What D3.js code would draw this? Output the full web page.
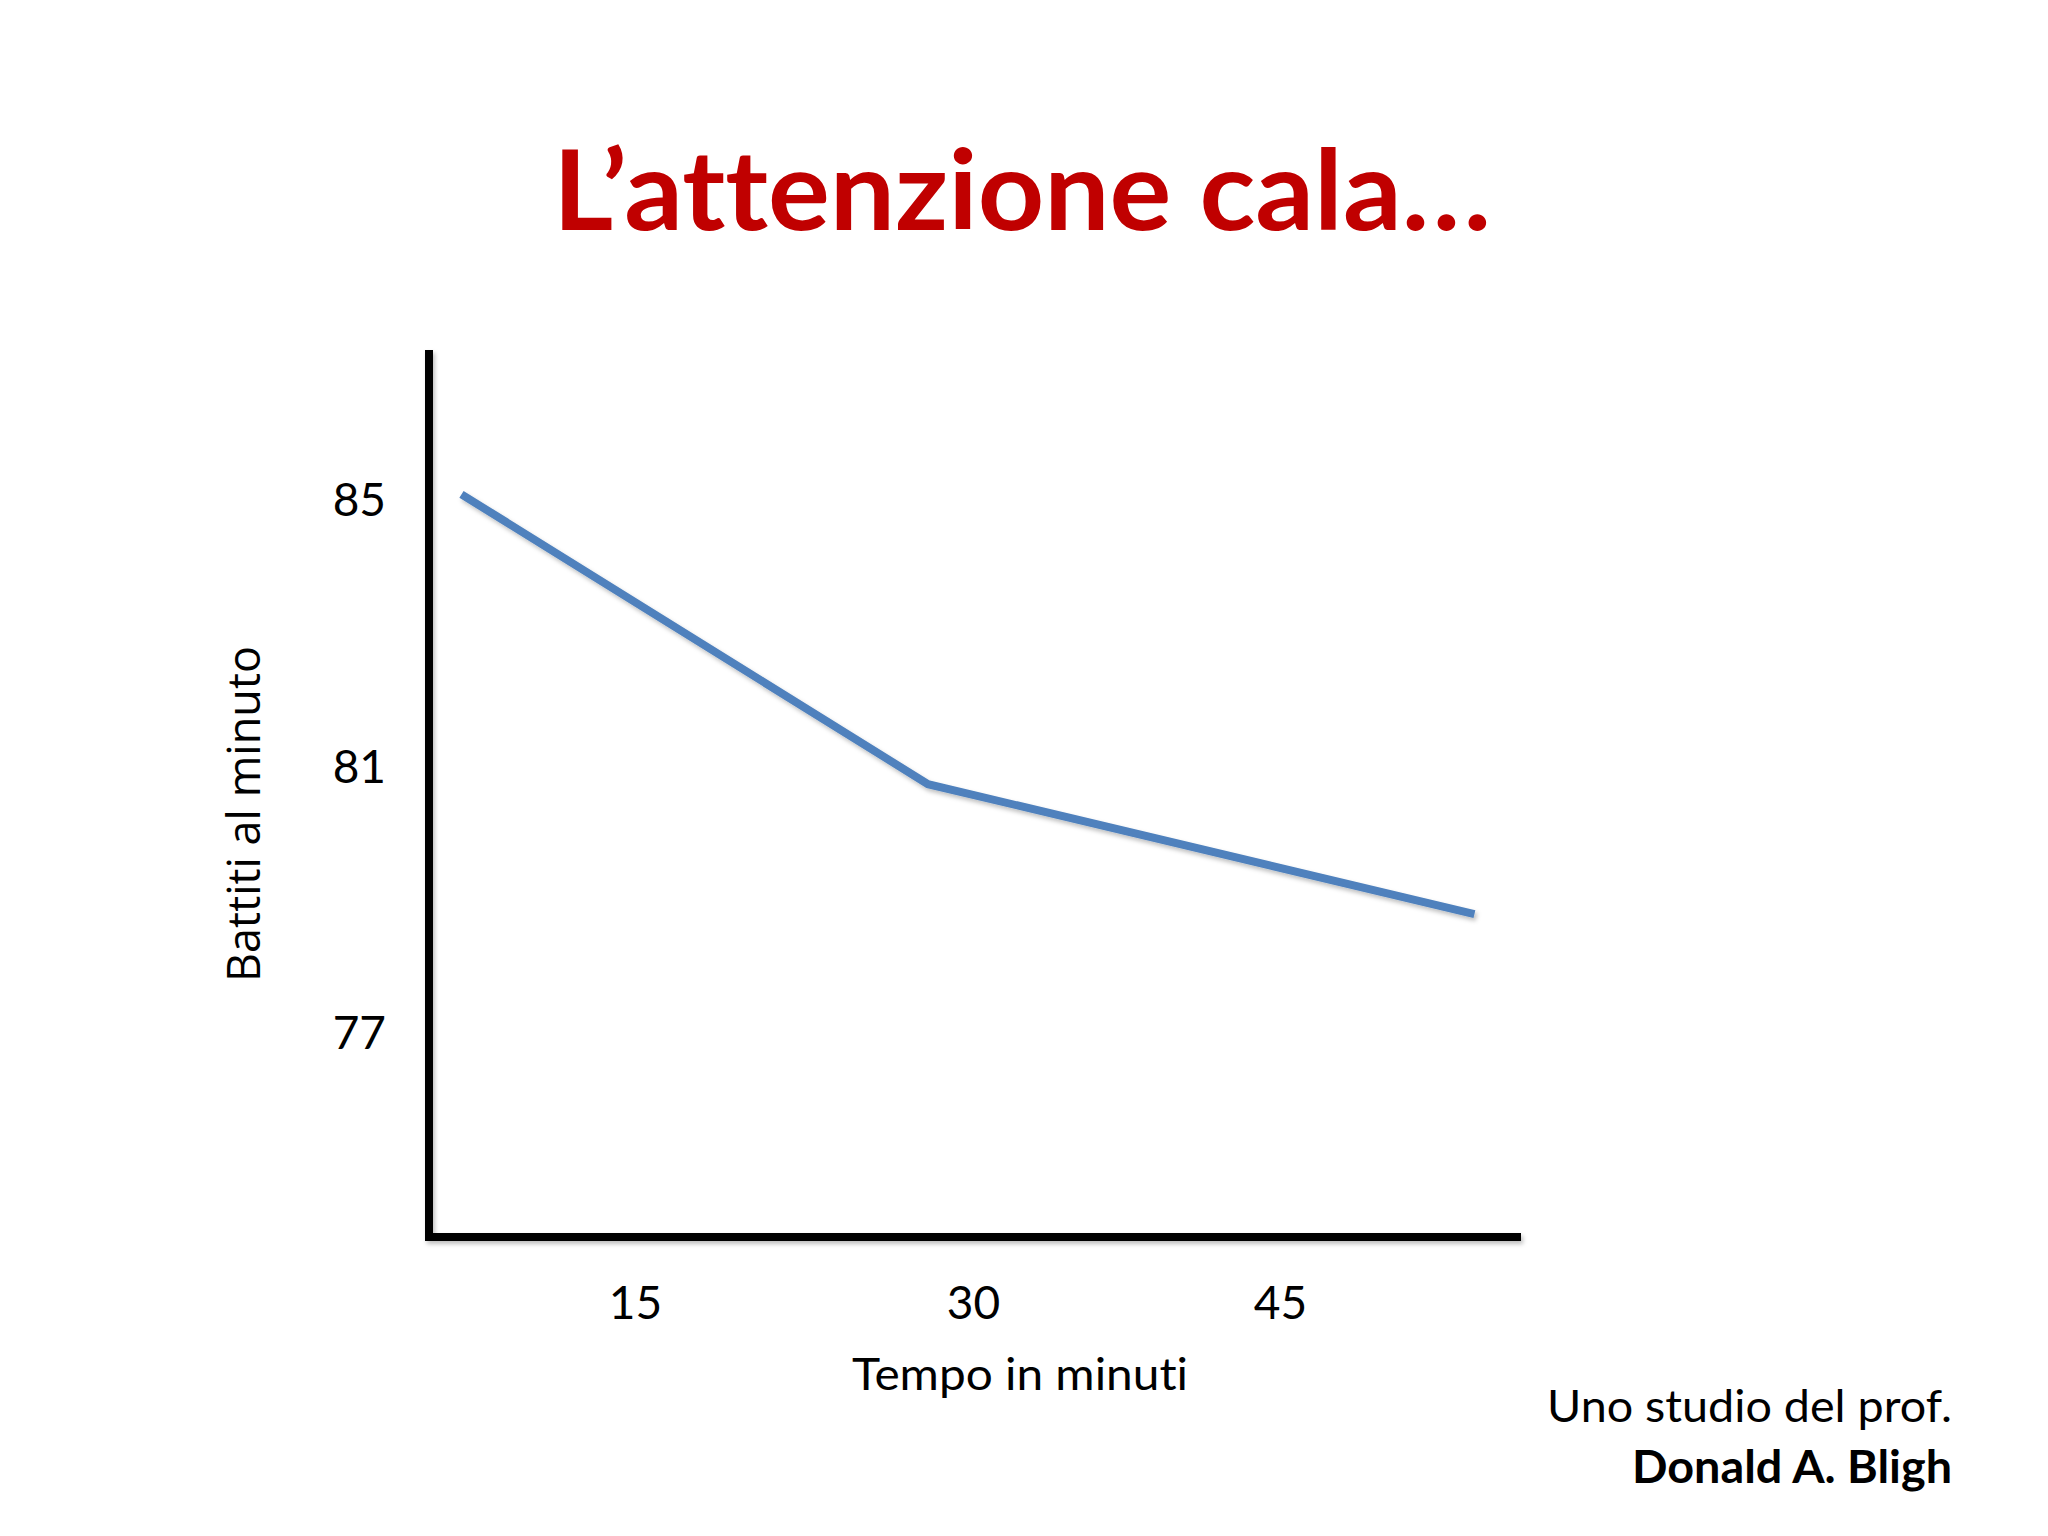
<!DOCTYPE html>
<html>
<head>
<meta charset="utf-8">
<script src="https://cdn.jsdelivr.net/npm/d3@7/dist/d3.min.js"></script>
<style>
  html, body { margin: 0; padding: 0; background: #ffffff; }
  svg { display: block; }
  text { font-variant-ligatures: none; font-feature-settings: "liga" 0; }
</style>
</head>
<body>
<script>
// ---- data ----
const minutes = [7.3, 28, 54.5];
const bpm = [85.1, 80.75, 78.8];
const xTicks = [15, 30, 45];
const yTicks = [77, 81, 85];
const titleText = "L\u2019attenzione cala\u2026";
const xLabel = "Tempo in minuti";
const yLabel = "Battiti al minuto";
const creditLine1 = "Uno studio del prof.";
const creditLine2 = "Donald A. Bligh";

const W = 2048, H = 1536;
const svg = d3.select("body").append("svg").attr("width", W).attr("height", H);
svg.append("rect").attr("width", W).attr("height", H).attr("fill", "#ffffff");

const defs = svg.append("defs");
const f = defs.append("filter").attr("id", "shadow").attr("x", "-10%").attr("y", "-10%").attr("width", "120%").attr("height", "120%");
f.append("feDropShadow").attr("dx", 2).attr("dy", 3).attr("stdDeviation", 2).attr("flood-color", "#000").attr("flood-opacity", 0.25);

const x = d3.scaleLinear().domain([15, 30, 45]).range([635, 973, 1280]);
const y = d3.scaleLinear().domain([77, 85]).range([1034, 501]);

const axisX0 = 429, axisY0 = 1237;

function fit(sel, width) {
  sel.attr("textLength", width).attr("lengthAdjust", "spacingAndGlyphs");
}

// title
const title = svg.append("text")
  .attr("x", 553).attr("y", 230)
  .attr("font-family", "Lato, 'Open Sans', sans-serif")
  .attr("font-weight", 700)
  .attr("font-size", 112)
  .attr("fill", "#C00000")
  .text(titleText);
fit(title, 938);

// axis lines
const axes = svg.append("g").attr("filter", "url(#shadow)");
axes.append("line").attr("x1", axisX0).attr("x2", axisX0).attr("y1", 350).attr("y2", axisY0 + 4)
  .attr("stroke", "#000").attr("stroke-width", 8);
axes.append("line").attr("x1", axisX0 - 4).attr("x2", 1521).attr("y1", axisY0).attr("y2", axisY0)
  .attr("stroke", "#000").attr("stroke-width", 8);

// y axis ticks
const gy = svg.append("g").attr("transform", `translate(${axisX0},0)`)
  .call(d3.axisLeft(y).tickValues(yTicks).tickSize(0).tickPadding(43).tickFormat(d3.format("d")));
gy.select(".domain").remove();
gy.selectAll("text").attr("font-family", "Lato, sans-serif").attr("font-size", 46).attr("fill", "#000");

// x axis ticks
const gx = svg.append("g").attr("transform", `translate(0,${axisY0})`)
  .call(d3.axisBottom(x).tickValues(xTicks).tickSize(0).tickPadding(49).tickFormat(d3.format("d")));
gx.select(".domain").remove();
gx.selectAll("text").attr("font-family", "Lato, sans-serif").attr("font-size", 46).attr("fill", "#000");

// line
const pts = minutes.map((m, i) => [m, bpm[i]]);
svg.append("path")
  .datum(pts)
  .attr("d", d3.line().x(d => x(d[0])).y(d => y(d[1])))
  .attr("fill", "none")
  .attr("stroke", "#4F81BD")
  .attr("stroke-width", 8)
  .attr("stroke-linejoin", "miter")
  .attr("filter", "url(#shadow)");

// axis labels
const xl = svg.append("text")
  .attr("x", 852).attr("y", 1390)
  .attr("font-family", "Lato, sans-serif").attr("font-size", 45).attr("fill", "#000")
  .text(xLabel);
fit(xl, 336);

const yl = svg.append("text")
  .attr("transform", `translate(260,${(650 + 978) / 2}) rotate(-90)`)
  .attr("text-anchor", "middle")
  .attr("font-family", "'Open Sans', sans-serif").attr("font-size", 45).attr("fill", "#000")
  .text(yLabel);

// credit
const c1 = svg.append("text")
  .attr("x", 1547).attr("y", 1422)
  .attr("font-family", "Lato, sans-serif").attr("font-size", 45).attr("fill", "#000")
  .text(creditLine1);
fit(c1, 405);
const c2 = svg.append("text")
  .attr("x", 1632).attr("y", 1483)
  .attr("font-family", "Lato, sans-serif").attr("font-weight", 700).attr("font-size", 45).attr("fill", "#000")
  .text(creditLine2);
fit(c2, 320);
</script>
</body>
</html>
